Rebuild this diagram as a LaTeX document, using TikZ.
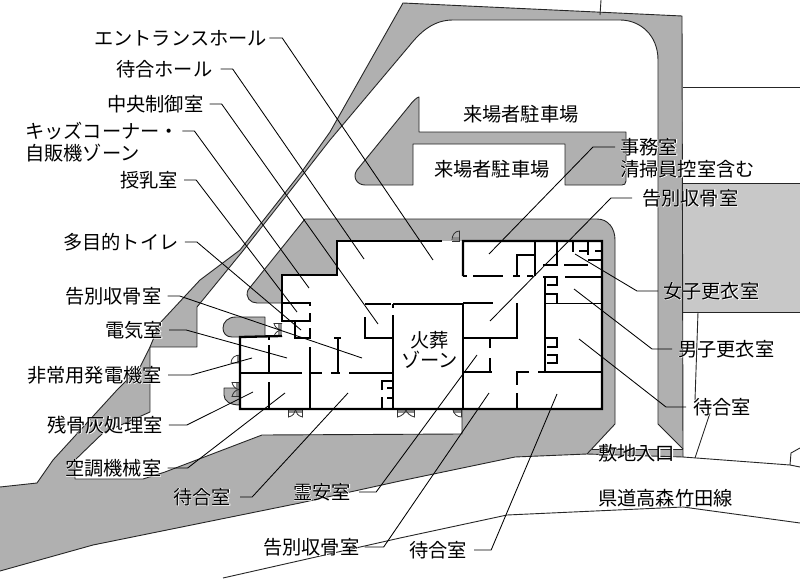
\documentclass[tikz,border=0pt]{standalone}
\usepackage{fontspec}
\setmainfont{Noto Sans CJK JP}
\newcommand\hl[1]{\rlap{\color{white}\addfontfeature{FakeBold=4}#1}#1}
\definecolor{sitegray}{HTML}{B0B0B0}
\definecolor{lotgray}{HTML}{C8C8C8}
\tikzset{
  siteline/.style={draw=black!85,line width=0.9pt,line join=round},
  wall/.style={draw=black,line width=2.3pt,line cap=butt},
  thinwall/.style={draw=black,line width=1.5pt},
  doorline/.style={draw=black!80,line width=0.8pt},
  leader/.style={draw=black,line width=0.85pt,line join=round},
  lbl/.style={anchor=west,inner sep=0pt,text height=16.7pt,text depth=2.3pt,font=\fontsize{19.25}{22}\selectfont},
}
\begin{document}
\begin{tikzpicture}[x=1pt,y=-1pt]
\useasboundingbox (0,0) rectangle (800,578);
\fill[white] (0,0) rectangle (800,578);
% site silhouette
\fill[sitegray] (403,3) -- (682,16) -- (683,457) -- (587,454) -- (515,457) -- (400,481) -- (300,503) -- (93,545) -- (0,571) -- (0,487) -- (37,483) -- (53,460) -- (117,390) -- (140,367) -- (150,347) -- (160,323) -- (200,280) -- (240,250) -- (303,170) -- (330,132) -- cycle;
% white forecourt
\fill[white] (683,449) -- (658,424) -- (658,60) .. controls (658,35) and (640,20) .. (620,20) -- (453,20) .. controls (435,20) and (422,30) .. (410,45) -- (330,140) -- (305,172) -- (242,252) -- (197,307) -- (197,347) -- (150,347) -- (150,412) -- (103,433) -- (75,460) -- (75,479) -- (143,479) -- (165,472) -- (262,435) -- (462,434) -- (587,440) -- (587,449) -- cycle;
% apron round the building
\fill[sitegray] (305,219) -- (597,219) .. controls (608,219) and (615,228) .. (615,240) -- (615,424) -- (587,454) -- (462,454) -- (462,409) -- (400,350) -- (300,303) -- (257,303) .. controls (250,303) and (245,297) .. (248,290) -- cycle;
\fill[white] (462,409) rectangle (300,434);
% parking island
\fill[sitegray] (419,97) -- (419,132) -- (626,132) -- (626,181) .. controls (626,184) and (624,185) .. (622,185) -- (565,185) -- (565,144) -- (413,144) -- (413,185) -- (365,185) .. controls (357,185) and (352,177) .. (357,170) -- (410,105) .. controls (413,101) and (416,98) .. (419,97) -- cycle;
\draw[siteline] (419,97) -- (419,132) -- (626,132) -- (626,181) .. controls (626,184) and (624,185) .. (622,185) -- (565,185) -- (565,144) -- (413,144) -- (413,185) -- (365,185) .. controls (357,185) and (352,177) .. (357,170) -- (410,105) .. controls (413,101) and (416,98) .. (419,97) -- cycle;
% light lot at right
\fill[lotgray] (683,183) rectangle (800,312);
\draw[siteline] (800,183) -- (683,183);
\draw[siteline] (683,312) -- (800,312);
\draw[siteline] (683,87) -- (800,87);
\draw[siteline] (600,15) -- (601,0);
\draw[siteline] (698,312) -- (695,400);
\draw[siteline] (710,413) -- (695,458);
% outlines
\draw[siteline] (240,250) -- (303,170) -- (330,132) -- (403,3) -- (682,16) -- (683,457) -- (790,465) -- (800,467);
\draw[siteline] (790,465) -- (791,453) -- (800,448);
\draw[siteline] (683,457) -- (587,454) -- (515,457) -- (400,481) -- (300,503) -- (93,545) -- (0,571);
\draw[siteline] (0,487) -- (37,483) -- (53,460) -- (117,390) -- (140,367) -- (150,347) -- (160,323) -- (200,280) -- (240,250);
\draw[siteline] (683,449) -- (658,424) -- (658,60) .. controls (658,35) and (640,20) .. (620,20) -- (453,20) .. controls (435,20) and (422,30) .. (410,45) -- (330,140) -- (305,172) -- (242,252) -- (197,307) -- (197,347) -- (150,347) -- (150,412) -- (103,433) -- (75,460) -- (75,479) -- (143,479) -- (165,472) -- (262,435) -- (462,434) -- (462,409);
\draw[siteline] (683,449) -- (592,449);
\draw[siteline] (587,454) -- (615,424) -- (615,240) .. controls (615,228) and (608,219) .. (597,219) -- (305,219) -- (248,290) .. controls (245,297) and (250,303) .. (257,303) -- (282,303);
% road
\draw[siteline] (223,578) -- (400,538) -- (507,515) -- (683,507) -- (800,523);
% gray blobs beside the building
\filldraw[fill=sitegray,siteline] (265,337) -- (265,317) -- (236,317) .. controls (228,317) and (223,322) .. (223,328) .. controls (223,333) and (226,337) .. (232,337) -- cycle;
\filldraw[fill=sitegray,siteline] (240,388) -- (224,388) -- (224,395) .. controls (224,401) and (230,405) .. (240,405) -- cycle;
% building floor
\fill[white] (337,241) -- (602,241) -- (602,409) -- (240,409) -- (240,337) -- (282,337) -- (282,275) -- (337,275) -- cycle;
% doors
\fill[sitegray!80!black] (288,409) rectangle (303,413);
\draw[doorline] (288.5,409) -- (288.5,417) .. controls (293,416) and (295,413) .. (295.5,410);
\draw[doorline] (302.5,409) -- (302.5,417) .. controls (298,416) and (296,413) .. (295.5,410);
\fill[sitegray!80!black] (397,409) rectangle (415,413);
\draw[doorline] (397.5,409) -- (397.5,417) .. controls (402,416) and (405,413) .. (406,410);
\draw[doorline] (414.5,409) -- (414.5,417) .. controls (410,416) and (407,413) .. (406,410);
\fill[sitegray!80!black] (453,409) rectangle (461,413);
\draw[doorline] (461.5,409) -- (461.5,417) .. controls (457,417) and (454,414) .. (453,410);
\fill[sitegray!80!black] (453,237) rectangle (460,241);
\draw[doorline] (459.5,241) -- (459.5,231) .. controls (455,231) and (452,235) .. (452,240);
\draw[doorline] (452,241) -- (460,241);
\fill[sitegray!80!black] (237,355) rectangle (240,363);
\draw[doorline] (240,355) .. controls (235,355) and (231,358) .. (231,363) -- (240,363);
\fill[sitegray!80!black] (236,382) rectangle (240,397);
\draw[doorline] (240,382.5) -- (232,382.5) .. controls (233,386) and (235,389) .. (239,389.5);
\draw[doorline] (240,396.5) -- (232,396.5) .. controls (233,393) and (235,390) .. (239,389.5);
\fill[sitegray!80!black] (278,323) rectangle (282,337);
\draw[doorline] (282,323.5) -- (274,323.5) .. controls (275,327) and (277,329) .. (281,330);
\draw[doorline] (282,336.5) -- (274,336.5) .. controls (275,333) and (277,331) .. (281,330);
% walls
\draw[wall,line join=miter] (442,241) -- (337,241) -- (337,275) -- (282,275) -- (282,322);
\draw[wall,line join=miter] (282,336) -- (240,337) -- (240,409) -- (602,409) -- (602,241) -- (463,241) -- (463,276);
\draw[wall] (282,303) -- (311,303) (282,321) -- (311,321) (310,303) -- (310,306) (310,313) -- (310,322);
\draw[wall,line join=miter] (295,322) -- (295,338) -- (311,338) (310,328) -- (310,339);
\draw[wall] (310,347) -- (310,409);
\draw[wall] (269,336) -- (269,340) (269,345) -- (269,374) (269,382) -- (269,409);
\draw[thinwall] (240,373) -- (302,373) (310,373) -- (322,373) (331,373) -- (340,373) (349,373) -- (393,373);
\draw[wall] (338,337) -- (338,372);
\draw[thinwall] (334,338) -- (341,338);
\draw[thinwall] (365,304) -- (391,304) (393,304) -- (463,304) (463,303) -- (493,303);
\draw[wall,line join=miter] (365,317) -- (365,338) -- (393,338);
\draw[wall] (393,304) -- (393,308) (393,315) -- (393,409);
\draw[thinwall] (463,303) -- (463,409);
\draw[wall,line join=miter] (463,338) -- (517,338) -- (517,303);
\draw[wall] (490,338) -- (490,348) (490,358) -- (490,373);
\draw[thinwall] (463,372) -- (492,372);
\draw[wall,line join=miter] (529,372) -- (517,372) -- (517,385);
\draw[wall] (517,393) -- (517,409);
\draw[thinwall] (538,372) -- (602,372);
\draw[wall,line join=miter] (382,409) -- (382,397) (382,390) -- (382,381) -- (393,381);
\draw[thinwall] (387,388) -- (393,388) (387,398) -- (393,398);
% upper right service rooms
\draw[thinwall] (463,276) -- (467,276) (473,276) -- (503,276) (513,276) -- (520,276) (527,276) -- (533,276);
\draw[wall] (535,241) -- (535,276);
\draw[wall,line join=miter] (517,276) -- (517,255) -- (534,255);
\draw[wall] (557,241) -- (557,266);
\draw[thinwall] (543,265) -- (557,265) (564,265) -- (588,265);
\draw[wall] (573,241) -- (573,252) (588,241) -- (588,255);
\draw[thinwall] (579,251) -- (588,251) (595,251) -- (602,251) (588,260) -- (602,260) (565,277) -- (602,277);
\draw[wall,line join=miter] (543,277) -- (557,277) -- (557,285) -- (547,285);
\draw[wall] (545,276) -- (545,372);
\draw[wall,line join=miter] (546,294) -- (557,294) -- (557,304);
\draw[thinwall] (545,303.5) -- (602,303.5);
\draw[wall,line join=miter] (545,338) -- (557,338) -- (557,347) -- (547,347);
\draw[wall,line join=miter] (547,355) -- (557,355) -- (557,363) -- (547,363);
% labels
\node[lbl] (a1) at (94,38) {\hl{エントランスホール}};
\node[lbl] (a2) at (116,69) {\hl{待合ホール}};
\node[lbl] (a3) at (107,104) {\hl{中央制御室}};
\node[lbl] (a4) at (25,131) {\hl{キッズコーナー・}};
\node[lbl] (a4b) at (25,153) {\hl{自販機ゾーン}};
\node[lbl] (a5) at (120,180) {\hl{授乳室}};
\node[lbl] (a6) at (63,242) {\hl{多目的トイレ}};
\node[lbl] (a7) at (65,296) {\hl{告別収骨室}};
\node[lbl] (a8) at (105,330) {\hl{電気室}};
\node[lbl] (a9) at (27,375) {\hl{非常用発電機室}};
\node[lbl] (a10) at (47,425) {\hl{残骨灰処理室}};
\node[lbl] (a11) at (65,468) {\hl{空調機械室}};
\node[lbl] (a12) at (173,497) {\hl{待合室}};
\node[lbl] (a13) at (293,492) {\hl{霊安室}};
\node[lbl] (a14) at (263,547) {\hl{告別収骨室}};
\node[lbl] (a15) at (409,550) {\hl{待合室}};
\node[lbl] (b1) at (620,147) {\hl{事務室}};
\node[lbl] (b1b) at (620,169) {\hl{清掃員控室含む}};
\node[lbl] (b2) at (642,198) {\hl{告別収骨室}};
\node[lbl] (b3) at (663,291) {\hl{女子更衣室}};
\node[lbl] (b4) at (678,349) {\hl{男子更衣室}};
\node[lbl] (b5) at (693,407) {\hl{待合室}};
\node[lbl] (c1) at (463,114) {来場者駐車場};
\node[lbl] (c2) at (434,169) {来場者駐車場};
\node[lbl] (c3) at (598,453) {\hl{敷地入口}};
\node[lbl] (c4) at (598,498) {\hl{県道高森竹田線}};
\node[lbl] (d1) at (410,340) {火葬};
\node[lbl] (d2) at (401,360) {ゾーン};
% leader ends
\coordinate (e1) at (433,260);
\coordinate (e2) at (364,259);
\coordinate (e3) at (378,324);
\coordinate (e4) at (309,288);
\coordinate (e5) at (297,312);
\coordinate (e6) at (301,330);
\coordinate (e7) at (362,358);
\coordinate (e8) at (287,358);
\coordinate (e9) at (252,358);
\coordinate (e10) at (253,392);
\coordinate (e11) at (285,393);
\coordinate (e12) at (348,393);
\coordinate (e13) at (477,355);
\coordinate (e14) at (489,393);
\coordinate (e15) at (557,394);
\coordinate (f1) at (489,254);
\coordinate (f2) at (490,321);
\coordinate (f3) at (575,254);
\coordinate (f4) at (574,289);
\coordinate (f5) at (579,339);
% leaders
\draw[leader] ([xshift=2pt]a1.east) -- ++(13,0) -- (e1);
\draw[leader] ([xshift=8pt]a2.east) -- ++(12,0) -- (e2);
\draw[leader] ([xshift=6pt]a3.east) -- ++(12,0) -- (e3);
\draw[leader] ([xshift=3pt]a4.east) -- ++(12,0) -- (e4);
\draw[leader] ([xshift=6pt]a5.east) -- ++(12,0) -- (e5);
\draw[leader] ([xshift=6pt]a6.east) -- ++(12,0) -- (e6);
\draw[leader] ([xshift=6pt]a7.east) -- ++(12,0) -- (e7);
\draw[leader] ([xshift=6pt]a8.east) -- ++(17,0) -- (e8);
\draw[leader] ([xshift=6pt]a9.east) -- ++(23,0) -- (e9);
\draw[leader] ([xshift=6pt]a10.east) -- ++(18,0) -- (e10);
\draw[leader] ([xshift=6pt]a11.east) -- ++(20,0) -- (e11);
\draw[leader] ([xshift=9pt]a12.east) -- ++(12,0) -- (e12);
\draw[leader] ([xshift=8pt]a13.east) -- ++(17,0) -- (e13);
\draw[leader] ([xshift=5pt]a14.east) -- ++(19,0) -- (e14);
\draw[leader] ([xshift=7pt]a15.east) -- ++(17,0) -- (e15);
\draw[leader] ([xshift=-5pt]b1.west) -- ++(-22,0) -- (f1);
\draw[leader] ([xshift=-10pt]b2.west) -- ++(-21,0) -- (f2);
\draw[leader] ([xshift=-5pt]b3.west) -- ++(-21,0) -- (f3);
\draw[leader] ([xshift=-6pt]b4.west) -- ++(-20,0) -- (f4);
\draw[leader] ([xshift=-7pt]b5.west) -- ++(-20,0) -- (f5);
\end{tikzpicture}
\end{document}
